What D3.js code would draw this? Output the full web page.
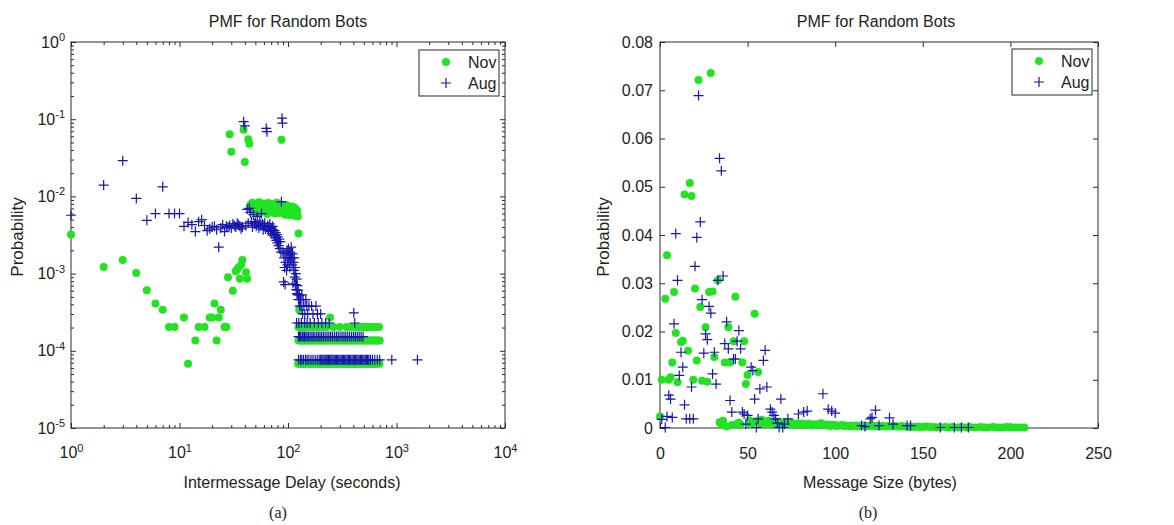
<!DOCTYPE html>
<html><head><meta charset="utf-8">
<script src="https://cdn.jsdelivr.net/npm/d3@7"></script>
<style>
body{margin:0;background:#fff}
text{font-family:"Liberation Sans",Arial,sans-serif;fill:#222}
</style>
</head><body>
<svg id="c" width="1174" height="525"></svg>
<script>
// ---------------- DATA ----------------
// Panel (a): PMF of intermessage delay (seconds), log-log
const novDelay = [
  [1,0.0032],[2,0.00122],[3,0.0015],[4,0.00102],[5,0.00061],[6,0.00041],[7,0.00034],[8,0.000204],[9,0.000204],
  [11,0.00027],[12,0.000068],[14,0.000136],[15,0.000204],[17,0.000204],[19,0.00027],[20,0.00027],[21,0.00041],
  [22,0.000136],[23,0.00027],[24,0.00034],[26,0.000204],[27,0.000204],
  [28,0.0009],[31,0.0006],[33,0.00107],[34,0.00113],[35,0.0012],[36,0.00086],[37,0.0013],[38,0.0015],[41,0.00104],[42,0.00086],
  [29,0.064],[30,0.038],[39,0.073],[40,0.028],[43,0.055],[44,0.048],[87,0.054],
  [45,0.0078],[46,0.0071],[47,0.0083],[48,0.0066],[49,0.0075],[50,0.0080],[51,0.0069],[52,0.0077],[53,0.0062],[54,0.0084],
  [55,0.0073],[56,0.0068],[57,0.0079],[58,0.0064],[59,0.0072],[60,0.0081],[61,0.0067],[62,0.0076],[63,0.0070],[64,0.0059],
  [65,0.0074],[66,0.0082],[67,0.0065],[68,0.0071],[69,0.0078],[70,0.0063],[71,0.0075],[72,0.0069],[73,0.0080],[74,0.0066],
  [75,0.0073],[76,0.0060],[77,0.0077],[78,0.0070],[79,0.0083],[80,0.0064],[81,0.0072],[82,0.0068],[83,0.0079],[84,0.0061],
  [85,0.0074],[86,0.0067],[88,0.0076],[89,0.0071],[90,0.0063],[91,0.0078],[92,0.0069],[93,0.0074],[94,0.0058],[95,0.0072],
  [96,0.0066],[97,0.0077],[98,0.0062],[99,0.0070],[100,0.0075],[101,0.0064],[102,0.0071],[103,0.0068],[104,0.0057],[105,0.0073],
  [106,0.0066],[107,0.0070],[108,0.0061],[109,0.0074],[110,0.0067],[111,0.0059],[112,0.0072],[113,0.0065],[114,0.0069],[115,0.0056],
  [116,0.0071],[117,0.0063],[118,0.0067],[119,0.0060],[120,0.0066],[121,0.0058],[122,0.0064],[123,0.0055],[125,0.0033],
  [127,0.00034],[244,0.00027]
];
// Nov tail: x values observed at each low probability level
const novTailLevels = [0.000068, 0.000136, 0.000204];
const novTailX1 = [124,127,131,135,139,143,148,153,158,163,168,174,180,186,192,199,206,213,220,228,236,244,252,261,270,279,289,299,309,320,331,342,354,366,379,392,405,419,434,449,464,480,497,514,532,550,569,589,609,630,652,674,697];
const novTailX2 = [125,128,132,136,140,145,150,155,160,166,172,178,184,190,197,204,211,218,226,234,242,250,259,268,277,287,297,307,318,329,340,352,364,377,390,404,418,432,447,463,479,496,513,531,550,569,589,610,631,653,676,700];
const novTailX3 = [125,130,135,142,150,158,166,175,185,196,210,226,262,300,347,380,414,440,461,490,513,540,570,610,650,690];

const augDelay = [
  [1,0.0057],[2,0.014],[3,0.029],[4,0.0094],[5,0.0049],[6,0.006],[7,0.0133],[8,0.006],[9,0.006],[10,0.006],
  [11,0.0041],[12,0.0046],[13,0.0043],[14,0.0035],[15,0.0047],[16,0.0050],[17,0.0042],[18,0.0036],[19,0.0038],[20,0.0040],
  [21,0.0041],[22,0.0037],[23,0.0022],[24,0.0039],[25,0.0043],[26,0.0035],[27,0.0041],[28,0.0040],[29,0.0042],[30,0.0039],
  [31,0.0044],[32,0.0042],[33,0.0040],[34,0.0045],[35,0.0043],[36,0.0041],[37,0.0038],[38,0.0040],[39,0.093],[40,0.082],
  [41,0.0042],[42,0.0068],[43,0.0045],[44,0.0070],[45,0.0062],[46,0.0047],[47,0.0040],[48,0.0058],[49,0.0044],[50,0.0046],
  [51,0.0041],[52,0.0055],[53,0.0043],[54,0.0039],[55,0.0048],[56,0.0042],[57,0.0060],[58,0.0044],[59,0.0037],[60,0.0041],
  [61,0.0045],[62,0.0038],[63,0.076],[64,0.069],[65,0.0042],[66,0.0036],[67,0.0040],[68,0.0044],[69,0.0035],[70,0.0039],
  [71,0.0033],[72,0.0041],[73,0.0037],[74,0.0031],[75,0.0036],[76,0.0029],[77,0.0034],[78,0.0027],[79,0.0032],[80,0.0025],
  [81,0.0030],[82,0.0023],[83,0.0028],[84,0.0021],[85,0.0026],[86,0.0019],[87,0.0085],[88,0.103],[89,0.089],
  [90,0.0019],[91,0.00078],[92,0.0016],[93,0.0012],[94,0.00072],[95,0.0014],[96,0.0018],[97,0.0011],[98,0.0020],[99,0.0013],
  [100,0.0016],[101,0.0021],[102,0.0014],[103,0.0017],[104,0.0012],[105,0.0019],[106,0.0015],[107,0.0022],[108,0.0016],[109,0.0013],
  [110,0.0018],[111,0.00075],[112,0.0014],[113,0.0011],[114,0.0016],[115,0.0009],[116,0.0012],[117,0.00072],[118,0.0010],[119,0.00062],
  [120,0.00085],[121,0.00055],[122,0.0007],[123,0.00053],[124,0.00061],[125,0.00046],[127,0.00053],[128,0.00038],[130,0.00046],
  [132,0.00038],[134,0.00053],[136,0.0003],[138,0.00046],[140,0.00038],[143,0.0003],[146,0.00046],[149,0.00038],[152,0.0003],
  [156,0.00038],[165,0.00038],[170,0.0003],[181,0.00038],[187,0.0003],[200,0.0003],[404,0.00031]
];
const augTailLevels = [0.0000763, 0.000153, 0.000229];
const augTailX1 = [125,130,134,139,145,150,156,163,170,178,186,194,200,205,210,215,220,225,230,236,242,248,254,260,266,273,280,287,294,301,309,317,325,333,342,351,360,369,379,389,399,409,420,431,442,453,465,477,489,502,515,528,542,556,575,600,630,665,700,905,1560];
const augTailX2 = [125,128,131,135,138,142,146,150,155,160,166,171,177,184,190,197,204,212,220,229,238,247,257,268,279,290,302,315,328,341,355,370,386,402,418,435,453,472,492];
const augTailX3 = [120,126,133,142,150,160,175,190,205,222,240,412];

// Panel (b): PMF of message size (bytes)
const novSize = [
  [0,0.0024],[1,0.0100],[3,0.0268],[4,0.0358],[5,0.0100],[6,0.0105],[7,0.0136],[8,0.0282],[9,0.0197],[10,0.0095],
  [12,0.0178],[13,0.0181],[14,0.0484],[16,0.0160],[17,0.0508],[18,0.0481],[19,0.0100],[20,0.0289],[21,0.0140],[22,0.0721],
  [23,0.0251],[24,0.0098],[26,0.0209],[27,0.0096],[28,0.0282],[29,0.0736],[30,0.0283],[31,0.0147],[33,0.0306],
  [37,0.0136],[39,0.0209],[40,0.0136],[42,0.0180],[43,0.0272],[47,0.0136],[48,0.0180],[49,0.0091],[50,0.0110],[54,0.0237],[56,0.0116],
  [34,0.0012],[35,0.0007],[36,0.0015],[38,0.0003],[41,0.0006],[44,0.0009],[45,0.0011],[46,0.0007],[51,0.0016],[52,0.0008],[53,0.0012],
  [55,0.0014],[57,0.0009],[58,0.0017],[59,0.0011],[60,0.0013],[61,0.0008],[62,0.0015],[63,0.0010],[64,0.0012],[65,0.0007],
  [66,0.0011],[67,0.0009],[68,0.0013],[69,0.0006],[70,0.0010],[71,0.0008],[72,0.0012],[73,0.0007],[74,0.0009],[75,0.0011],
  [76,0.0006],[77,0.0009],[78,0.0008],[79,0.0010],[80,0.0007],[81,0.0009],[82,0.0006],[83,0.0008],[84,0.0007],[85,0.0009],
  [86,0.0005],[87,0.0007],[88,0.0006],[89,0.0008],[90,0.0006],[91,0.0007],[92,0.0010],[93,0.0008],[94,0.0006],[95,0.0005],
  [96,0.0007],[97,0.0004],[98,0.0006],[99,0.0005],[100,0.0006],[101,0.0004],[102,0.0005],[104,0.0006],[105,0.0004],[106,0.0005],
  [108,0.0003],[109,0.0005],[110,0.0004],[112,0.0005],[113,0.0003],[114,0.0004],[116,0.0005],[117,0.0003],[118,0.0004],
  [120,0.0004],[121,0.0005],[123,0.0003],[124,0.0004],[126,0.0003],[127,0.0004],[129,0.0003],[130,0.0004],[132,0.0003],
  [134,0.0004],[135,0.0003],[137,0.0003],[138,0.0004],[140,0.0003],[142,0.0002],[143,0.0003],[145,0.0002],[147,0.0003],
  [148,0.0002],[150,0.0002],[152,0.0003],[154,0.0002],[156,0.0002],[158,0.0001],[160,0.0002],[163,0.0002],[165,0.0001],
  [167,0.0002],[170,0.0001],[172,0.0002],[175,0.0001],[177,0.0002],[180,0.0001],[183,0.0002],[185,0.0001],[187,0.0001],
  [190,0.0002],[192,0.0001],[194,0.0001],[196,0.0001],[198,0.0002],[200,0.0001],[202,0.0001],[204,0.0001],[206,0.0001],[208,0.0001]
];
const augSize = [
  [1,0.0018],[3,0.0001],[4,0.0024],[5,0.0068],[6,0.0060],[7,0.0022],[8,0.0216],[9,0.0403],[10,0.0306],[11,0.0109],
  [12,0.0157],[13,0.0126],[14,0.0048],[15,0.0019],[17,0.0019],[18,0.0085],[19,0.0019],[20,0.0335],[21,0.0395],[22,0.0689],
  [23,0.0427],[24,0.0266],[25,0.0155],[26,0.0195],[27,0.0183],[28,0.0252],[29,0.0238],[30,0.0112],[31,0.0157],[32,0.0091],
  [33,0.0306],[34,0.0559],[35,0.0533],[36,0.0315],[37,0.0175],[38,0.0220],[39,0.0164],[40,0.0057],[41,0.0033],[42,0.0143],
  [43,0.0143],[44,0.0180],[45,0.0202],[46,0.0164],[47,0.0033],[48,0.0029],[49,0.0008],[50,0.0026],[52,0.0126],[53,0.0119],
  [54,0.0060],[55,0.0001],[56,0.0019],[57,0.0081],[59,0.0140],[60,0.0161],[61,0.0085],[63,0.0039],[64,0.0033],[65,0.0026],
  [66,0.0019],[67,0.0010],[68,0.0001],[69,0.0060],[70,0.0001],[71,0.0008],[73,0.0019],[79,0.0029],[82,0.0033],[84,0.0035],
  [93,0.0071],[96,0.0039],[98,0.0035],[100,0.0031],[115,0.0005],[117,0.0003],[120,0.0019],[121,0.0022],[123,0.0037],
  [125,0.0005],[131,0.0021],[133,0.0008],[141,0.0005],[143,0.0005],[160,0.0001],[168,0.0001],[172,0.0001],[176,0.0001]
];

// ticks / labels
const delayTicks = [1,10,100,1000,10000];
const delayExp = ["0","1","2","3","4"];
const probTicks = [1e-5,1e-4,1e-3,1e-2,1e-1,1];
const probExp = ["-5","-4","-3","-2","-1","0"];
const minorMult = [2,3,4,5,6,7,8,9];
const sizeTicks = [0,50,100,150,200,250];
const sizeProbTicks = [0,0.01,0.02,0.03,0.04,0.05,0.06,0.07,0.08];
const sizeProbLabels = ["0","0.01","0.02","0.03","0.04","0.05","0.06","0.07","0.08"];
const seriesNames = ["Nov","Aug"];
const panelTitle = "PMF for Random Bots";

// ---------------- DRAW ----------------
const svg = d3.select("#c");
const GREEN = "#22e322", BLUE = "#1616b0", INK = "#222";
const plusPath = "M-5,0H5M0,-5V5";

function supLabels(g, exps){
  g.selectAll(".tick text").each(function(d,i){
    const t = d3.select(this); t.text(null);
    t.append("tspan").text("10");
    t.append("tspan").attr("dy","-0.6em").attr("font-size","11px").text(exps[i]);
  });
}
function frame(x0,x1,y0,y1){
  svg.append("rect").attr("x",x0).attr("y",y0).attr("width",x1-x0).attr("height",y1-y0)
    .attr("fill","none").attr("stroke","#2a2a2a").attr("stroke-width",1);
}
function legend(x,y){
  const g = svg.append("g").attr("transform",`translate(${x},${y})`);
  g.append("rect").attr("width",80).attr("height",46).attr("fill","#fff").attr("stroke","#2a2a2a");
  g.append("circle").attr("cx",27).attr("cy",12).attr("r",4).attr("fill",GREEN);
  g.append("path").attr("d",plusPath).attr("transform","translate(27,33)").attr("stroke",BLUE).attr("stroke-width",1.2);
  g.append("text").attr("x",49).attr("y",12).attr("dy","0.35em").attr("font-size","16px").text(seriesNames[0]);
  g.append("text").attr("x",49).attr("y",33).attr("dy","0.35em").attr("font-size","16px").text(seriesNames[1]);
}
function texts(cx, title, xlab, ylabX, tag, tagX){
  svg.append("text").attr("x",cx).attr("y",21).attr("dy","0.35em").attr("text-anchor","middle").attr("font-size","16px").text(title);
  svg.append("text").attr("x",cx+4).attr("y",482).attr("dy","0.35em").attr("text-anchor","middle").attr("font-size","16px").text(xlab);
  svg.append("text").attr("transform",`translate(${ylabX},237) rotate(-90)`).attr("dy","0.35em").attr("text-anchor","middle").attr("font-size","17px").text("Probability");
  svg.append("text").attr("x",tagX).attr("y",512).attr("dy","0.35em").attr("text-anchor","middle").attr("font-size","16px")
    .style("font-family","'Liberation Serif','Times New Roman',serif").text(tag);
}
function styleAxis(g){ g.attr("color","#2a2a2a").attr("font-size","16px").attr("font-family","Liberation Sans, Arial, sans-serif"); g.select(".domain").remove(); g.selectAll("text").attr("fill",INK); }

// ---- Panel (a)
const L = {x0:71,x1:505,y0:42,y1:428};
const xa = d3.scaleLog().domain([1,1e4]).range([L.x0,L.x1]);
const ya = d3.scaleLog().domain([1e-5,1]).range([L.y1,L.y0]);
const minorX = delayTicks.slice(0,-1).flatMap(t=>minorMult.map(m=>t*m));
const minorY = probTicks.slice(0,-1).flatMap(t=>minorMult.map(m=>t*m));

let g;
g = svg.append("g").attr("transform",`translate(0,${L.y1})`).call(d3.axisBottom(xa).tickValues(delayTicks).tickSize(-5).tickSizeOuter(0).tickPadding(19));
styleAxis(g); supLabels(g, delayExp);
g = svg.append("g").attr("transform",`translate(0,${L.y1})`).call(d3.axisBottom(xa).tickValues(minorX).tickSize(-3).tickSizeOuter(0).tickFormat(()=>""));
styleAxis(g);
g = svg.append("g").attr("transform",`translate(0,${L.y0})`).call(d3.axisTop(xa).tickValues(delayTicks).tickSize(-5).tickSizeOuter(0).tickFormat(()=>""));
styleAxis(g);
g = svg.append("g").attr("transform",`translate(0,${L.y0})`).call(d3.axisTop(xa).tickValues(minorX).tickSize(-3).tickSizeOuter(0).tickFormat(()=>""));
styleAxis(g);
g = svg.append("g").attr("transform",`translate(${L.x0},0)`).call(d3.axisLeft(ya).tickValues(probTicks).tickSize(-5).tickSizeOuter(0).tickPadding(6));
styleAxis(g); supLabels(g, probExp);
g = svg.append("g").attr("transform",`translate(${L.x0},0)`).call(d3.axisLeft(ya).tickValues(minorY).tickSize(-3).tickSizeOuter(0).tickFormat(()=>""));
styleAxis(g);
g = svg.append("g").attr("transform",`translate(${L.x1},0)`).call(d3.axisRight(ya).tickValues(probTicks).tickSize(-5).tickSizeOuter(0).tickFormat(()=>""));
styleAxis(g);
g = svg.append("g").attr("transform",`translate(${L.x1},0)`).call(d3.axisRight(ya).tickValues(minorY).tickSize(-3).tickSizeOuter(0).tickFormat(()=>""));
styleAxis(g);
frame(L.x0,L.x1,L.y0,L.y1);

const novAll = novDelay
  .concat(novTailX1.map(x=>[x,novTailLevels[0]]))
  .concat(novTailX2.map(x=>[x,novTailLevels[1]]))
  .concat(novTailX3.map(x=>[x,novTailLevels[2]]));
const augAll = augDelay
  .concat(augTailX1.map(x=>[x,augTailLevels[0]]))
  .concat(augTailX2.map(x=>[x,augTailLevels[1]]))
  .concat(augTailX3.map(x=>[x,augTailLevels[2]]));

svg.append("g").selectAll("circle").data(novAll).join("circle")
  .attr("cx",d=>xa(d[0])).attr("cy",d=>ya(d[1])).attr("r",4).attr("fill",GREEN);
svg.append("g").selectAll("path").data(augAll).join("path")
  .attr("d",plusPath).attr("transform",d=>`translate(${xa(d[0])},${ya(d[1])})`)
  .attr("stroke",BLUE).attr("stroke-width",1.2).attr("fill","none");
legend(419,50);
texts(288, panelTitle, "Intermessage Delay (seconds)", 17, "(a)", 278);

// ---- Panel (b)
const R = {x0:660,x1:1098,y0:42,y1:428};
const xb = d3.scaleLinear().domain([0,250]).range([R.x0,R.x1]);
const yb = d3.scaleLinear().domain([0,0.08]).range([R.y1,R.y0]);
g = svg.append("g").attr("transform",`translate(0,${R.y1})`).call(d3.axisBottom(xb).tickValues(sizeTicks).tickSize(-5).tickSizeOuter(0).tickPadding(20).tickFormat(d3.format("d")));
styleAxis(g);
g = svg.append("g").attr("transform",`translate(0,${R.y0})`).call(d3.axisTop(xb).tickValues(sizeTicks).tickSize(-5).tickSizeOuter(0).tickFormat(()=>""));
styleAxis(g);
g = svg.append("g").attr("transform",`translate(${R.x0},0)`).call(d3.axisLeft(yb).tickValues(sizeProbTicks).tickSize(-5).tickSizeOuter(0).tickPadding(7).tickFormat((d,i)=>sizeProbLabels[i]));
styleAxis(g);
g = svg.append("g").attr("transform",`translate(${R.x1},0)`).call(d3.axisRight(yb).tickValues(sizeProbTicks).tickSize(-5).tickSizeOuter(0).tickFormat(()=>""));
styleAxis(g);
frame(R.x0,R.x1,R.y0,R.y1);

svg.append("g").selectAll("circle").data(novSize).join("circle")
  .attr("cx",d=>xb(d[0])).attr("cy",d=>yb(d[1])).attr("r",4).attr("fill",GREEN);
svg.append("g").selectAll("path").data(augSize).join("path")
  .attr("d",plusPath).attr("transform",d=>`translate(${xb(d[0])},${yb(d[1])})`)
  .attr("stroke",BLUE).attr("stroke-width",1.2).attr("fill","none");
legend(1012,49);
texts(876, panelTitle, "Message Size (bytes)", 603, "(b)", 868);
</script>
</body></html>
